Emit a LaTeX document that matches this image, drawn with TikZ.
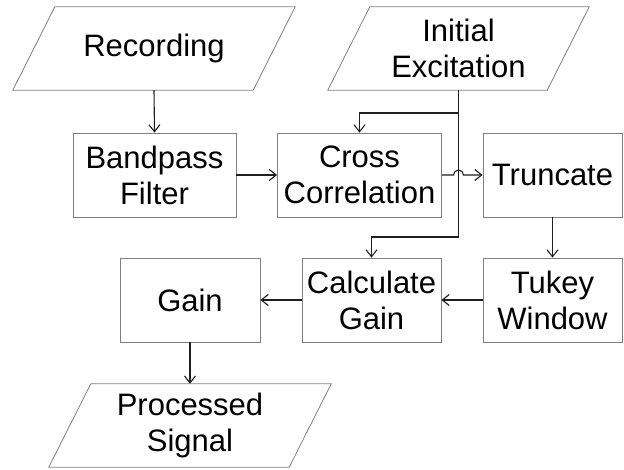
\documentclass[tikz,border=0pt]{standalone}
\usepackage{fontspec}
\setmainfont{Liberation Sans}
\usetikzlibrary{arrows.meta,calc}
\definecolor{boxgray}{RGB}{128,128,128}
\definecolor{linegray}{RGB}{30,30,30}
\begin{document}
\begin{tikzpicture}[x=1pt,y=-1pt,
  lbl/.style={inner sep=0pt, align=center, font=\fontsize{31}{36}\selectfont},
  box/.style={lbl, draw=boxgray, line width=0.8pt, minimum height=84pt},
  io/.style={lbl, minimum height=83pt},
  iob/.style={draw=boxgray, line width=0.8pt},
  conn/.style={draw=linegray, line width=1.1pt},
  arr/.style={conn, -{Straight Barb[length=7pt,width=11pt]}}]
\fill[white] (0,0) rectangle (624,470);
\useasboundingbox (0,0) rectangle (624,470);
% input/output nodes
\node[io, minimum width=240pt] (rec) at (154,48.5) {Recording};
\node[io, minimum width=219pt] (ie) at (458.5,48.5) {Initial\\Excitation};
\node[io, minimum width=240pt] (proc) at (190,425.5) {Processed\\Signal};
\foreach \n in {rec,ie,proc}{
  \draw[iob] ([xshift=21pt]\n.north west) -- ([xshift=21pt]\n.north east)
    -- ([xshift=-21pt]\n.south east) -- ([xshift=-21pt]\n.south west) -- cycle;
}
% process boxes
\node[box, minimum width=163pt] (bp) at (154.5,175) {Bandpass\\Filter};
\node[box, minimum width=164pt] (cc) at (359.5,175) {Cross\\Correlation};
\node[box, minimum width=139pt] (tr) at (552.5,175) {Truncate};
\node[box, minimum width=139pt] (tw) at (552.5,300) {Tukey\\Window};
\node[box, minimum width=139pt] (cg) at (371.5,300) {Calculate\\Gain};
\node[box, minimum width=140pt] (gn) at (190,300) {Gain};
% junctions
\coordinate (j1) at (458.5,113);
\coordinate (j2) at (458.5,237);
% connectors
\draw[arr] (rec.south) -- (bp.north);
\draw[arr] (bp.east) -- (cc.west);
\draw[conn] (ie.south) -- (j2);
\draw[arr] (j1) -| (cc.north);
\draw[arr] (j2) -| (cg.north);
\draw[arr] (cc.east) -- ([xshift=-5pt]cc.east -| j1) arc[start angle=180, end angle=0, radius=5pt] -- (tr.west);
\draw[arr] (tr.south) -- (tw.north);
\draw[arr] (tw.west) -- (cg.east);
\draw[arr] (cg.west) -- (gn.east);
\draw[arr] (gn.south) -- (proc.north);
\end{tikzpicture}
\end{document}
